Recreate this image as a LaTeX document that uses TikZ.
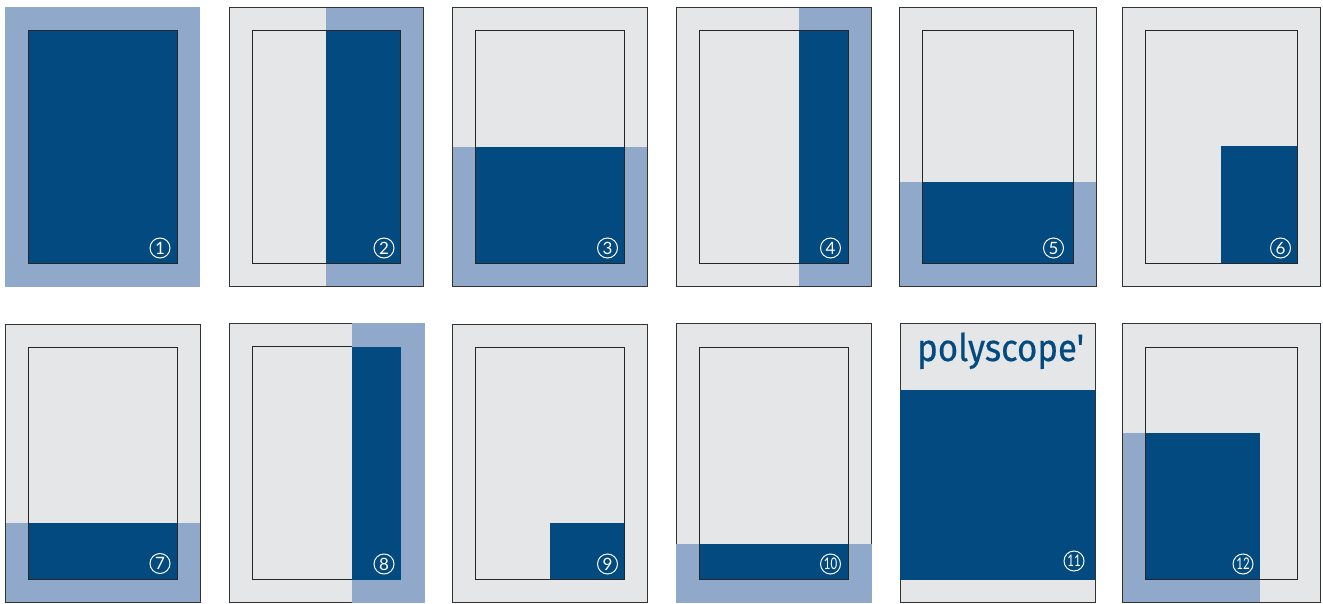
\documentclass[tikz,border=0pt]{standalone}
\usepackage{fontspec}
\setsansfont{Lato}
\newfontfamily\logofont{Fira Sans}[BoldFont=Fira Sans,BoldFeatures={FakeBold=0.5}]
\usetikzlibrary{positioning}
\definecolor{sheetgray}{HTML}{E5E6E8}
\definecolor{bleedblue}{HTML}{90A8CA}
\definecolor{solidblue}{HTML}{024A7F}

\begin{document}
\begin{tikzpicture}[
    x=1pt, y=-1pt,
    sheet/.style={fill=sheetgray},
    frame/.style={draw=black!80, line width=0.9pt},
    bleed/.style={fill=bleedblue},
    solid/.style={fill=solidblue},
    trim/.style={draw=black!85, line width=0.9pt},
    num/.style={circle, draw=white, line width=1pt, text=white, inner sep=0pt, minimum size=20pt, font=\sffamily\fontsize{17}{17}\selectfont},
    numtwo/.style={num, font=\sffamily\fontsize{16}{16}\selectfont}
]
\useasboundingbox (0,0) rectangle (1323,604);

% Panel 1
\fill[bleed] (5,7) rectangle (200,286.7);
\fill[solid] (28,30.7) rectangle (177,263.3);
\draw[trim] (28,30.7) rectangle (177,263.3);
\node[num] (n1) at (160,248) {1};

% Panel 2
\fill[sheet] (229.3,7.3) rectangle (423.7,286.3);
\fill[bleed] (326,7.3) rectangle (423.7,286.3);
\fill[solid] (326,30.7) rectangle (400.7,263.3);
\draw[frame] (229.3,7.3) rectangle (423.7,286.3);
\draw[trim] (252.3,30.7) rectangle (400.7,263.3);
\node[num] (n2) at (384,248) {2};

% Panel 3
\fill[sheet] (452.7,7.3) rectangle (647.3,286.3);
\fill[bleed] (452.7,147) rectangle (647.3,286.3);
\fill[solid] (475.7,147) rectangle (624.7,263.3);
\draw[frame] (452.7,7.3) rectangle (647.3,286.3);
\draw[trim] (475.7,30.7) rectangle (624.7,263.3);
\node[num] (n3) at (607.5,248) {3};

% Panel 4
\fill[sheet] (676.7,7.3) rectangle (871.3,286.3);
\fill[bleed] (799,7.3) rectangle (871.3,286.3);
\fill[solid] (799,30.7) rectangle (848.7,263.3);
\draw[frame] (676.7,7.3) rectangle (871.3,286.3);
\draw[trim] (699.7,30.7) rectangle (848.7,263.3);
\node[num] (n4) at (830.5,248) {4};

% Panel 5
\fill[sheet] (899,7.3) rectangle (1096.7,286.3);
\fill[bleed] (899,182) rectangle (1096.7,286.3);
\fill[solid] (922.3,182) rectangle (1073.7,263.3);
\draw[frame] (899,7.3) rectangle (1096.7,286.3);
\draw[trim] (922.3,30.7) rectangle (1073.7,263.3);
\node[num] (n5) at (1053.5,248) {5};

% Panel 6
\fill[sheet] (1122.7,7.3) rectangle (1320.3,286.3);
\fill[solid] (1221,146) rectangle (1297.3,263.3);
\draw[frame] (1122.7,7.3) rectangle (1320.3,286.3);
\draw[trim] (1145.7,30.7) rectangle (1297.3,263.3);
\node[num] (n6) at (1280.5,248) {6};

% Panel 7
\fill[sheet] (5.3,324) rectangle (200,602.7);
\fill[bleed] (5.3,523) rectangle (200,602.7);
\fill[solid] (28.3,523) rectangle (177,579.7);
\draw[frame] (5.3,324) rectangle (200,602.7);
\draw[trim] (28.3,347) rectangle (177,579.7);
\node[num] (n7) at (160,563.5) {7};

% Panel 8
\fill[sheet] (229,323.3) rectangle (424.3,602.3);
\draw[frame] (229,323.3) rectangle (424.3,602.3);
\draw[trim] (252.3,346.7) rectangle (401,579);
\fill[bleed] (352,322.8) rectangle (424.8,602.8);
\fill[solid] (352,347) rectangle (401,580);
\node[num] (n8) at (384,564) {8};

% Panel 9
\fill[sheet] (452.7,324) rectangle (647.3,602.7);
\fill[solid] (550,523) rectangle (624.7,579.7);
\draw[frame] (452.7,324) rectangle (647.3,602.7);
\draw[trim] (475.7,347) rectangle (624.7,579.7);
\node[num] (n9) at (607.5,564) {9};

% Panel 10
\fill[sheet] (676.7,323.7) rectangle (871.3,602.7);
\draw[frame] (676.7,323.7) rectangle (871.3,602.7);
\fill[bleed] (676.2,544.3) rectangle (871.8,603.2);
\fill[solid] (699.7,544.3) rectangle (848.7,579.7);
\draw[trim] (699.7,347) rectangle (848.7,579.7);
\node[numtwo] (n10) at (830.5,564) {\scalebox{.72}[1]{10}};

% Panel 11
\fill[sheet] (900.3,323.7) rectangle (1095,602.7);
\draw[frame] (900.3,323.7) rectangle (1095,602.7);
\fill[solid] (900,390) rectangle (1095.4,580);
\node[text=solidblue, font=\logofont\bfseries\fontsize{38}{38}\selectfont, inner sep=0pt, anchor=base west, transform shape, xscale=0.915] (logo) at (917,361) {polyscope'};
\node[numtwo] (n11) at (1074,561) {\scalebox{.72}[1]{11}};

% Panel 12
\fill[sheet] (1122.7,323.7) rectangle (1320.3,602.7);
\fill[bleed] (1122.7,433) rectangle (1260,602.7);
\fill[solid] (1145.7,433) rectangle (1260,579.7);
\draw[frame] (1122.7,323.7) rectangle (1320.3,602.7);
\draw[trim] (1145.7,347) rectangle (1297.3,579.7);
\node[numtwo] (n12) at (1243,564) {\scalebox{.72}[1]{12}};

\end{tikzpicture}
\end{document}
